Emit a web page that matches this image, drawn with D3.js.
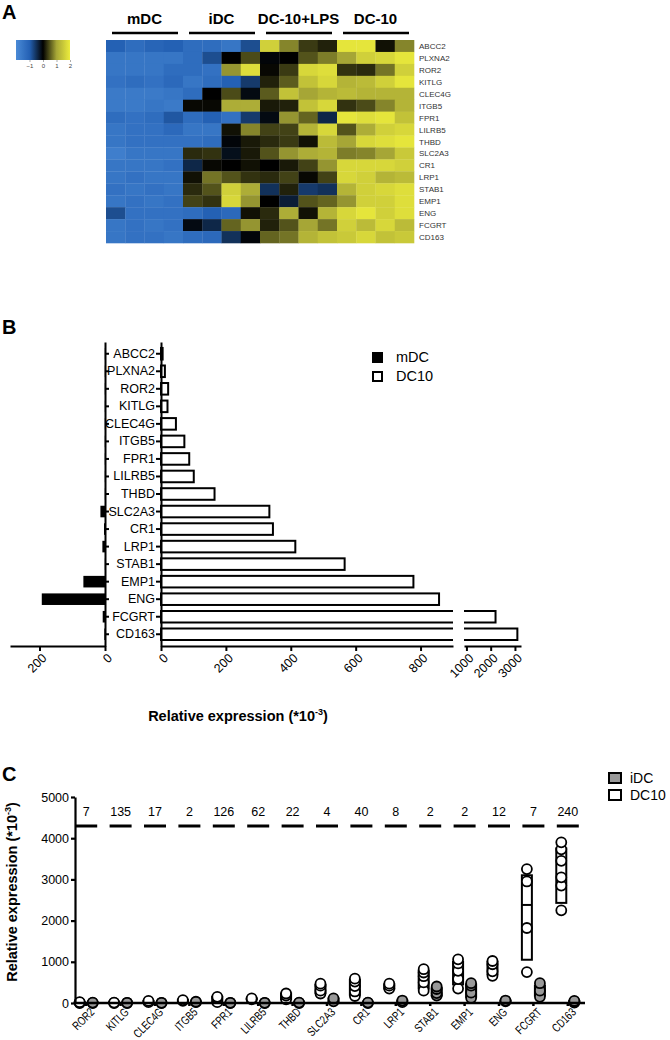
<!DOCTYPE html>
<html>
<head>
<meta charset="utf-8">
<script src="https://cdn.jsdelivr.net/npm/d3@7"></script>
<style>
body { margin: 0; background: #fff; }
svg { display: block; font-family: "Liberation Sans", Arial, sans-serif; }
</style>
</head>
<body>
<svg></svg>
<script>
const width = 670;
const height = 1040;

// ---- panel A : heatmap ----
const heatGenes = ["ABCC2", "PLXNA2", "ROR2", "KITLG", "CLEC4G", "ITGB5", "FPR1", "LILRB5", "THBD",
    "SLC2A3", "CR1", "LRP1", "STAB1", "EMP1", "ENG", "FCGRT", "CD163"];
const heatGroups = ["mDC", "iDC", "DC-10+LPS", "DC-10"];
const keyTicks = [-1, 0, 1, 2];
const heatValues = [
    [-1.0, -1.3, -1.1, -1.0, -1.3, -1.3, -1.5, -0.8, 1.6, 0.8, 0.35, 0.2, 1.9, 1.9, 0.1, 0.8],
    [-1.5, -1.5, -1.5, -1.5, -1.3, -0.8, 0, 0.45, -0.05, 0, 0.5, 0.75, 1.0, 1.6, 1.7, 1.9],
    [-1.5, -1.5, -1.5, -1.3, -1.3, -1.4, 0.9, 1.8, 0.05, 0.35, 1.7, 1.8, 0.3, 0.25, 0.7, 1.6],
    [-1.4, -1.3, -1.4, -1.2, -1.5, -1.3, -1.0, -0.6, 0.2, 0.55, 1.4, 1.7, 1.2, 1.3, 1.6, 1.9],
    [-1.6, -1.6, -1.6, -1.5, -1.3, 0, 0.45, -0.1, 0.55, 1.4, 1.0, 1.2, 1.3, 1.2, 1.2, 1.2],
    [-1.6, -1.6, -1.5, -1.6, 0.05, 0.05, 1.1, 1.1, 0.15, 0.2, 1.4, 1.7, 0.3, 0.45, 0.8, 1.2],
    [-1.3, -1.4, -1.3, -0.9, -1.3, -1.0, -1.4, -0.6, -0.1, 0.9, 0.6, -0.4, 1.9, 1.8, 1.9, 1.4],
    [-1.5, -1.4, -1.4, -1.2, -1.5, -1.5, 0.1, 0.8, 0.4, 0.4, 1.2, 1.7, 0.5, 1.1, 1.6, 1.7],
    [-1.5, -1.4, -1.4, -1.4, -1.4, -1.3, -0.05, 0.15, 0.25, 0.35, 0.1, 1.3, 1.0, 1.7, 1.8, 1.9],
    [-1.7, -1.5, -1.5, -1.5, 0.25, 0.3, -0.15, 0.15, 0.5, 0.9, 1.1, 1.2, 0.75, 0.8, 1.0, 1.5],
    [-1.5, -1.5, -1.5, -1.4, -0.4, 0.05, 0, 0.1, 0, 0.15, 0.4, 0.9, 1.7, 1.7, 1.7, 1.6],
    [-1.5, -1.4, -1.5, -1.5, 0.1, 0.7, 0.5, 0.3, 0.25, 0.4, 0.05, 0.4, 1.7, 1.6, 1.2, 1.3],
    [-1.4, -1.5, -1.4, -1.5, 0.25, 0.5, 1.6, 1.1, -0.5, 0.2, -0.6, -0.5, 1.2, 1.6, 1.7, 1.8],
    [-1.5, -1.4, -1.5, -1.4, 0.4, 0.3, 1.7, 0.9, 0, -0.3, 0.5, 0.6, 0.9, 1.6, 1.6, 1.8],
    [-0.8, -1.4, -1.4, -1.4, -1.3, -1.0, -1.2, 0.1, 0.25, 1.1, 0.1, 1.2, 1.7, 1.9, 1.6, 1.8],
    [-1.5, -1.4, -1.5, -1.4, -0.1, -0.4, 0.6, 0.9, 0.2, 0.5, 1.0, 0.7, 1.6, 1.3, 1.7, 1.3],
    [-1.5, -1.4, -1.4, -1.5, -1.3, -1.2, -0.5, -0.05, 0.6, 0.7, 1.2, 1.4, 1.5, 1.7, 1.4, 1.5]
];

// ---- panel B : bars (same genes) ----
const mdcValues = [0.5, 0.5, 0.5, 0.5, 0.5, 0.5, 0.5, 0.5, 0.5, 14, 3, 8, 0.5, 66, 193, 7, 2];
const dc10Values = [5, 12, 22, 20, 46, 72, 87, 101, 165, 334, 345, 414, 566, 778, 857, 2200, 3100];
const leftTicks = [0, 200];
const rightTicks = [0, 200, 400, 600, 800];
const breakTicks = [1000, 2000, 3000];

// ---- panel C : dot plot ----
const genesC = ["ROR2", "KITLG", "CLEC4G", "ITGB5", "FPR1", "LILRB5", "THBD", "SLC2A3", "CR1",
    "LRP1", "STAB1", "EMP1", "ENG", "FCGRT", "CD163"];
const foldLabels = [7, 135, 17, 2, 126, 62, 22, 4, 40, 8, 2, 2, 12, 7, 240];
const dc10Points = [
    [0, 10, 20], [0, 10], [20, 50], [50, 70], [20, 120, 150], [90, 110], [90, 180, 230],
    [230, 300, 420, 470], [170, 280, 410, 520, 590], [350, 420, 470], [300, 500, 650, 740, 820],
    [350, 580, 780, 960, 1060], [660, 770, 940, 1020], [750, 1820, 2950, 3250],
    [2250, 2850, 3050, 3450, 3730, 3900]
];
const idcPoints = [
    [0, 10], [0, 5], [0, 5], [20, 30], [0, 5], [0, 5], [0, 10], [40, 110], [0, 10], [20, 60],
    [180, 240, 340, 400], [120, 250, 420, 480], [40, 60], [150, 300, 480], [10, 30, 50]
];
const dc10BoxLow = [0, 0, 20, 50, 20, 90, 90, 250, 200, 350, 350, 450, 700, 1050, 2430];
const dc10BoxMed = [10, 10, 35, 60, 120, 100, 180, 340, 400, 400, 560, 700, 800, 2380, 3100];
const dc10BoxHigh = [20, 15, 50, 70, 150, 110, 230, 440, 560, 450, 780, 1000, 1000, 3100, 3750];
const idcBoxLow = [0, 0, 0, 20, 0, 0, 0, 50, 0, 20, 180, 150, 40, 180, 10];
const idcBoxMed = [5, 5, 5, 25, 5, 5, 5, 80, 5, 40, 260, 330, 50, 320, 30];
const idcBoxHigh = [10, 5, 5, 30, 5, 5, 10, 110, 10, 60, 360, 450, 60, 420, 50];
const yTicksC = [0, 1000, 2000, 3000, 4000, 5000];

const svg = d3.select("svg")
    .attr("width", width)
    .attr("height", height);

function panelLetter(t, x, y) {
    svg.append("text").attr("x", x).attr("y", y)
        .attr("font-size", 20).attr("font-weight", "bold").text(t);
}

function styleAxis(g, w) {
    g.selectAll("path, line").attr("stroke", "#000").attr("stroke-width", w);
    g.selectAll("text").attr("fill", "#000").attr("font-family", "Liberation Sans, Arial, sans-serif");
}

// ================= A =================
panelLetter("A", 2, 19);

const color = d3.scaleLinear()
    .domain([-2, -1, 0, 1, 2])
    .range(["#4a8ad6", "#2461b4", "#000000", "#a6a636", "#ecec3c"]);

const hx = d3.scaleBand().domain(d3.range(16)).range([106, 414]);
const hy = d3.scaleBand().domain(heatGenes).range([40, 243]);

const cells = [];
heatValues.forEach((row, i) => row.forEach((v, j) => cells.push({ gene: heatGenes[i], col: j, v: v })));

svg.append("g").selectAll("rect")
    .data(cells)
    .enter().append("rect")
    .attr("x", d => hx(d.col))
    .attr("y", d => hy(d.gene))
    .attr("width", hx.bandwidth() + 0.3)
    .attr("height", hy.bandwidth() + 0.3)
    .attr("fill", d => color(d.v));

svg.append("g").selectAll("text")
    .data(heatGenes)
    .enter().append("text")
    .attr("x", 419)
    .attr("y", d => hy(d) + hy.bandwidth() / 2 + 3)
    .attr("font-size", 8)
    .attr("fill", "#333")
    .text(d => d);

const gx = d3.scaleBand().domain(heatGroups).range([106, 414]);
const groups = svg.append("g").selectAll("g")
    .data(heatGroups)
    .enter().append("g");
groups.append("text")
    .attr("x", d => gx(d) + gx.bandwidth() / 2)
    .attr("y", 24)
    .attr("text-anchor", "middle")
    .attr("font-size", 15)
    .attr("font-weight", "bold")
    .text(d => d);
groups.append("line")
    .attr("x1", d => gx(d) + 6)
    .attr("x2", d => gx(d) + gx.bandwidth() - 5)
    .attr("y1", 33).attr("y2", 33)
    .attr("stroke", "#000")
    .attr("stroke-width", 2.5);

// colour key
const kx = d3.scaleLinear().domain([-2, 2]).range([16, 70]);
const grad = svg.append("defs").append("linearGradient").attr("id", "keygrad");
d3.range(-2, 2.01, 0.25).forEach(v => {
    grad.append("stop").attr("offset", (v + 2) / 4).attr("stop-color", color(v));
});
svg.append("rect").attr("x", 16).attr("y", 40).attr("width", 54).attr("height", 20)
    .attr("fill", "url(#keygrad)");
const keyAxis = svg.append("g")
    .attr("transform", "translate(0,60)")
    .call(d3.axisBottom(kx).tickValues(keyTicks).tickFormat(d3.format("d")).tickSize(2).tickPadding(2));
keyAxis.select(".domain").remove();
keyAxis.selectAll("line").attr("stroke", "#777").attr("stroke-width", 0.6);
keyAxis.selectAll("text").attr("font-size", 6).attr("fill", "#444");

// ================= B =================
panelLetter("B", 2, 334);

const axisYB = 646;
const yB = d3.scaleBand().domain(heatGenes).range([342, axisYB]).padding(0.34);
const xL = d3.scaleLinear().domain([0, 290]).range([105, 10]);
const xR1 = d3.scaleLinear().domain([0, 900]).range([161, 453]);
const xR2 = d3.scaleLinear().domain([900, 3250]).range([464, 521]);

const barsB = heatGenes.map((g, i) => ({ gene: g, mdc: mdcValues[i], dc10: dc10Values[i] }));

// mDC bars to the left
svg.append("g").selectAll("rect")
    .data(barsB)
    .enter().append("rect")
    .attr("x", d => xL(d.mdc))
    .attr("y", d => yB(d.gene))
    .attr("width", d => xL(0) - xL(d.mdc))
    .attr("height", yB.bandwidth())
    .attr("fill", "#000");

// DC10 bars, split at the axis break
const dcBars = svg.append("g").attr("fill", "none").attr("stroke", "#000").attr("stroke-width", 2);
barsB.forEach(d => {
    const y0 = yB(d.gene), y1 = y0 + yB.bandwidth();
    if (d.dc10 <= 900) {
        dcBars.append("rect").attr("x", xR1(0)).attr("y", y0)
            .attr("width", xR1(d.dc10) - xR1(0)).attr("height", yB.bandwidth()).attr("fill", "#fff");
    } else {
        dcBars.append("rect").attr("x", xR1(0)).attr("y", y0)
            .attr("width", xR1(900) - xR1(0)).attr("height", yB.bandwidth())
            .attr("fill", "#fff").attr("stroke", "none");
        dcBars.append("path")
            .attr("d", `M${xR1(900)},${y0}H${xR1(0)}V${y1}H${xR1(900)}`);
        dcBars.append("rect").attr("x", xR2(900)).attr("y", y0)
            .attr("width", xR2(d.dc10) - xR2(900)).attr("height", yB.bandwidth())
            .attr("fill", "#fff").attr("stroke", "none");
        dcBars.append("path")
            .attr("d", `M${xR2(900)},${y0}H${xR2(d.dc10)}V${y1}H${xR2(900)}`);
    }
});

// category axes
const axR = svg.append("g")
    .attr("transform", `translate(${xR1(0)},0)`)
    .call(d3.axisLeft(yB).tickSize(5).tickSizeOuter(0).tickPadding(1));
styleAxis(axR, 2);
axR.selectAll("text").attr("font-size", 12.5);

const axL = svg.append("g")
    .attr("transform", `translate(${xL(0)},0)`)
    .call(d3.axisRight(yB).tickSize(4).tickSizeOuter(0).tickFormat(""));
styleAxis(axL, 2);

function valueAxis(scale, ticks) {
    const g = svg.append("g")
        .attr("transform", `translate(0,${axisYB})`)
        .call(d3.axisBottom(scale).tickValues(ticks).tickFormat(d3.format("d")).tickSize(5).tickSizeOuter(0));
    styleAxis(g, 2);
    g.selectAll("text")
        .attr("font-size", 12.5)
        .attr("text-anchor", "end")
        .attr("dx", "-0.3em")
        .attr("dy", "0.5em")
        .attr("transform", "rotate(-45)");
    return g;
}
valueAxis(xL, leftTicks);
valueAxis(xR1, rightTicks);
valueAxis(xR2, breakTicks);

const xTitleB = svg.append("text")
    .attr("x", 238).attr("y", 721)
    .attr("text-anchor", "middle")
    .attr("font-size", 14.5).attr("font-weight", "bold");
xTitleB.append("tspan").text("Relative expression (*10");
xTitleB.append("tspan").attr("font-size", 9).attr("dy", -6).text("-3");
xTitleB.append("tspan").attr("dy", 6).text(")");

// legend B
const legB = svg.append("g");
[["mDC", "#000"], ["DC10", "#fff"]].forEach((d, i) => {
    legB.append("rect").attr("x", 373).attr("y", 353 + i * 19).attr("width", 9).attr("height", 9)
        .attr("fill", d[1]).attr("stroke", "#000").attr("stroke-width", 2);
    legB.append("text").attr("x", 396).attr("y", 362 + i * 19)
        .attr("font-size", 14.5).text(d[0]);
});

// ================= C =================
panelLetter("C", 2, 781);

const axisYC = 1003;
const xC = d3.scaleBand().domain(genesC).range([69, 585]);
const sub = d3.scalePoint().domain(["DC10", "iDC"]).range([0, xC.bandwidth()]).padding(0.82);
const yC = d3.scaleLinear().domain([0, 5000]).range([axisYC, 797]);

// boxes
const boxes = [];
genesC.forEach((g, i) => {
    boxes.push({ gene: g, grp: "DC10", lo: dc10BoxLow[i], med: dc10BoxMed[i], hi: dc10BoxHigh[i], fill: "#fff" });
    boxes.push({ gene: g, grp: "iDC", lo: idcBoxLow[i], med: idcBoxMed[i], hi: idcBoxHigh[i], fill: "#999" });
});
const bw = 10;
const boxG = svg.append("g").selectAll("g")
    .data(boxes)
    .enter().append("g")
    .attr("transform", d => `translate(${xC(d.gene) + sub(d.grp)},0)`);
boxG.append("rect")
    .attr("x", -bw / 2)
    .attr("y", d => yC(d.hi))
    .attr("width", bw)
    .attr("height", d => yC(d.lo) - yC(d.hi))
    .attr("fill", d => d.fill)
    .attr("stroke", "#000")
    .attr("stroke-width", 2);
boxG.append("line")
    .attr("x1", -bw / 2).attr("x2", bw / 2)
    .attr("y1", d => yC(d.med)).attr("y2", d => yC(d.med))
    .attr("stroke", "#000").attr("stroke-width", 2);

// points
const pts = [];
genesC.forEach((g, i) => {
    dc10Points[i].forEach(v => pts.push({ gene: g, grp: "DC10", v: v }));
    idcPoints[i].forEach(v => pts.push({ gene: g, grp: "iDC", v: v }));
});
svg.append("g").selectAll("circle")
    .data(pts)
    .enter().append("circle")
    .attr("cx", d => xC(d.gene) + sub(d.grp))
    .attr("cy", d => yC(d.v))
    .attr("r", 5)
    .attr("fill", d => d.grp === "DC10" ? "#fff" : "#999")
    .attr("stroke", "#000")
    .attr("stroke-width", 1.8);

// fold change labels and dashes
const fold = svg.append("g").selectAll("g")
    .data(genesC)
    .enter().append("g")
    .attr("transform", d => `translate(${xC(d) + xC.bandwidth() / 2},0)`);
fold.append("text")
    .attr("y", 816)
    .attr("text-anchor", "middle")
    .attr("font-size", 12.5)
    .text((d, i) => foldLabels[i]);
fold.append("line")
    .attr("x1", -11).attr("x2", 11)
    .attr("y1", 826).attr("y2", 826)
    .attr("stroke", "#000").attr("stroke-width", 3);

// axes
const axYC = svg.append("g")
    .attr("transform", "translate(75,0)")
    .call(d3.axisLeft(yC).tickValues(yTicksC).tickFormat(d3.format("d")).tickSize(4).tickSizeOuter(0).tickPadding(2));
styleAxis(axYC, 2.2);
axYC.selectAll("text").attr("font-size", 12.5);

const axXC = svg.append("g")
    .attr("transform", `translate(0,${axisYC})`)
    .call(d3.axisBottom(xC).tickSize(3).tickSizeOuter(0));
axXC.select(".domain").attr("d", "M75,0H585");
styleAxis(axXC, 2.5);
axXC.selectAll("text")
    .attr("font-size", 12)
    .attr("text-anchor", "end")
    .attr("x", 0).attr("y", 0)
    .attr("dy", "0.35em")
    .attr("transform", "translate(6,7) rotate(-45) scale(0.76,1)");

const yTitleC = svg.append("text")
    .attr("transform", "translate(17,892) rotate(-90)")
    .attr("text-anchor", "middle")
    .attr("font-size", 14.5).attr("font-weight", "bold");
yTitleC.append("tspan").text("Relative expression (*10");
yTitleC.append("tspan").attr("font-size", 9).attr("dy", -6).text("-3");
yTitleC.append("tspan").attr("dy", 6).text(")");

// legend C
const legC = svg.append("g");
[["iDC", "#999"], ["DC10", "#fff"]].forEach((d, i) => {
    legC.append("rect").attr("x", 609).attr("y", 773 + i * 17).attr("width", 12).attr("height", 10)
        .attr("fill", d[1]).attr("stroke", "#000").attr("stroke-width", 2);
    legC.append("text").attr("x", 630).attr("y", 783 + i * 17)
        .attr("font-size", 14).text(d[0]);
});
</script>
</body>
</html>
